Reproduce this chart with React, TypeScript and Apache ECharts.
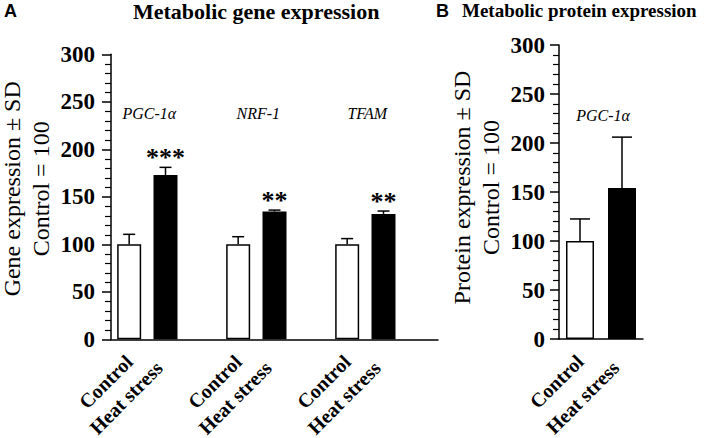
import { useEffect, useRef } from "react";
import * as echarts from "echarts";

// ---- Data ----
const groupLabels = ["Control", "Heat stress"];

const genes = ["PGC-1α", "NRF-1", "TFAM"];
const geneControl = [100, 100, 100];
const geneControlSD = [10.5, 8, 6];
const geneHeat = [173, 134.5, 132];
const geneHeatSD = [8, 1.5, 3];
const geneStars = ["***", "**", "**"];

const proteins = ["PGC-1α"];
const proteinControl = [100];
const proteinControlSD = [22.5];
const proteinHeat = [154];
const proteinHeatSD = [52];
const proteinStars = [""];

const yMin = 0;
const yMax = 300;
const yInterval = 50;

const SERIF = "'Liberation Serif', 'Times New Roman', serif";
const SANS = "'Liberation Sans', Arial, sans-serif";

function buildCategories(names: string[], withGap: boolean) {
  const cats: string[] = [];
  names.forEach(() => {
    cats.push(...groupLabels);
    if (withGap) cats.push("");
  });
  return cats;
}

function buildBars(ctrl: number[], heat: number[], withGap: boolean) {
  const out: any[] = [];
  ctrl.forEach((c, g) => {
    out.push({ value: c, itemStyle: { color: "#fff", borderColor: "#000", borderWidth: 1.5 } });
    out.push({ value: heat[g], itemStyle: { color: "#000", borderColor: "#000", borderWidth: 1.5 } });
    if (withGap) out.push("-");
  });
  return out;
}

function buildErrorSeries(
  axisIndex: number,
  names: string[],
  ctrl: number[],
  ctrlSD: number[],
  heat: number[],
  heatSD: number[],
  stars: string[],
  step: number,
  capW: number,
  labelValue: number
) {
  const data: number[][] = [];
  ctrl.forEach((c, g) => {
    data.push([g * step, c, ctrlSD[g]]);
    data.push([g * step + 1, heat[g], heatSD[g]]);
  });
  return {
    type: "custom",
    xAxisIndex: axisIndex,
    yAxisIndex: axisIndex,
    data,
    z: 5,
    clip: false,
    renderItem: (params: any, api: any) => {
      const idx = api.value(0);
      const v = api.value(1);
      const sd = api.value(2);
      const base = api.coord([idx, v]);
      const top = api.coord([idx, v + sd]);
      const lineStyle = { stroke: "#000", lineWidth: 1.5 };
      const children: any[] = [
        { type: "line", shape: { x1: base[0], y1: base[1], x2: top[0], y2: top[1] }, style: lineStyle },
        {
          type: "line",
          shape: { x1: top[0] - capW / 2, y1: top[1], x2: top[0] + capW / 2, y2: top[1] },
          style: lineStyle,
        },
      ];
      const g = Math.floor(params.dataIndex / 2);
      const isHeat = params.dataIndex % 2 === 1;
      if (isHeat && stars[g]) {
        children.push({
          type: "text",
          x: top[0],
          y: top[1] - 9.5,
          style: {
            text: stars[g],
            font: `bold 26px ${SERIF}`,
            fill: "#000",
            textAlign: "center",
            textVerticalAlign: "middle",
          },
        });
      }
      if (!isHeat) {
        const a = api.coord([idx, labelValue]);
        const b = api.coord([idx + 1, labelValue]);
        children.push({
          type: "text",
          x: (a[0] + b[0]) / 2 + 2,
          y: a[1],
          style: {
            text: names[g],
            font: `italic 16px ${SERIF}`,
            fill: "#000",
            textAlign: "center",
            textVerticalAlign: "middle",
          },
        });
      }
      return { type: "group", children };
    },
  };
}

function yAxisCfg(gridIndex: number, name: string, gap: number, shift: number, labelMargin: number) {
  return {
    type: "value",
    gridIndex,
    min: yMin,
    max: yMax,
    interval: yInterval,
    name,
    nameLocation: "middle",
    nameRotate: 90,
    nameGap: gap,
    nameTextStyle: {
      fontFamily: SERIF,
      fontSize: 24,
      color: "#000",
      lineHeight: 29,
      padding: [0, 0, 0, shift],
    },
    axisLine: { show: true, lineStyle: { color: "#000", width: 1.5 } },
    axisTick: { show: true, length: 9, lineStyle: { color: "#000", width: 1.5 } },
    minorTick: { show: true, splitNumber: 5, length: 6, lineStyle: { color: "#000", width: 1.2 } },
    splitLine: { show: false },
    minorSplitLine: { show: false },
    axisLabel: {
      fontFamily: SERIF,
      fontWeight: "bold",
      fontSize: 23,
      color: "#000",
      margin: labelMargin,
    },
  };
}

const labelFont = { fontFamily: SERIF, fontWeight: "bold", fontSize: 20, color: "#000" };

function xAxisCfg(gridIndex: number, cats: string[]) {
  return {
    type: "category",
    gridIndex,
    data: cats,
    axisLine: { show: true, lineStyle: { color: "#000", width: 1.5 } },
    axisTick: { show: false },
    splitLine: { show: false },
    axisLabel: {
      interval: 0,
      rotate: 45,
      ...labelFont,
      margin: 19,
      formatter: (v: string) => (v === groupLabels[1] ? `{h|${v}}` : v ? `{c|${v}}` : ""),
      rich: {
        c: { ...labelFont, lineHeight: 20 },
        h: { ...labelFont, lineHeight: 20, padding: [0, 9, 0, 0] },
      },
    },
  };
}

export default function App() {
  const ref = useRef<HTMLDivElement>(null);

  useEffect(() => {
    if (!ref.current) return;
    const chart = echarts.init(ref.current, undefined, { renderer: "svg" });

    const geneCats = buildCategories(genes, true);
    const proteinCats = buildCategories(proteins, false);

    chart.setOption({
      animation: false,
      backgroundColor: "#fff",
      title: [
        {
          text: "A",
          left: 4,
          top: 2,
          padding: 0,
          textStyle: { fontFamily: SANS, fontWeight: "bold", fontSize: 18, color: "#000" },
        },
        {
          text: "Metabolic gene expression",
          left: 133,
          top: 0,
          padding: 0,
          textStyle: { fontFamily: SERIF, fontWeight: "bold", fontSize: 22, color: "#000" },
        },
        {
          text: "B",
          left: 436,
          top: 2,
          padding: 0,
          textStyle: { fontFamily: SANS, fontWeight: "bold", fontSize: 18, color: "#000" },
        },
        {
          text: "Metabolic protein expression",
          left: 462,
          top: 1,
          padding: 0,
          textStyle: { fontFamily: SERIF, fontWeight: "bold", fontSize: 19, color: "#000" },
        },
      ],
      grid: [
        { left: 111, right: 271, top: 54.3, bottom: 98.7, containLabel: false, outerBoundsMode: "none" },
        { left: 559, right: 66, top: 45, bottom: 99, containLabel: false, outerBoundsMode: "none" },
      ],
      xAxis: [xAxisCfg(0, geneCats), xAxisCfg(1, proteinCats)],
      yAxis: [
        yAxisCfg(0, "Gene expression ± SD\nControl = 100", 55.5, 16, 16),
        yAxisCfg(1, "Protein expression ± SD\nControl = 100", 53.5, 9, 14),
      ],
      series: [
        {
          type: "bar",
          xAxisIndex: 0,
          yAxisIndex: 0,
          barWidth: 24,
          data: buildBars(geneControl, geneHeat, true),
        },
        buildErrorSeries(0, genes, geneControl, geneControlSD, geneHeat, geneHeatSD, geneStars, 3, 12, 238),
        {
          type: "bar",
          xAxisIndex: 1,
          yAxisIndex: 1,
          barWidth: 28,
          data: buildBars(proteinControl, proteinHeat, false),
        },
        buildErrorSeries(
          1,
          proteins,
          proteinControl,
          proteinControlSD,
          proteinHeat,
          proteinHeatSD,
          proteinStars,
          2,
          20,
          228
        ),
      ],
    });

    return () => chart.dispose();
  }, []);

  return (
    <div
      ref={ref}
      style={{ position: "fixed", left: 0, top: 0, width: 709, height: 438, background: "#fff" }}
    />
  );
}
